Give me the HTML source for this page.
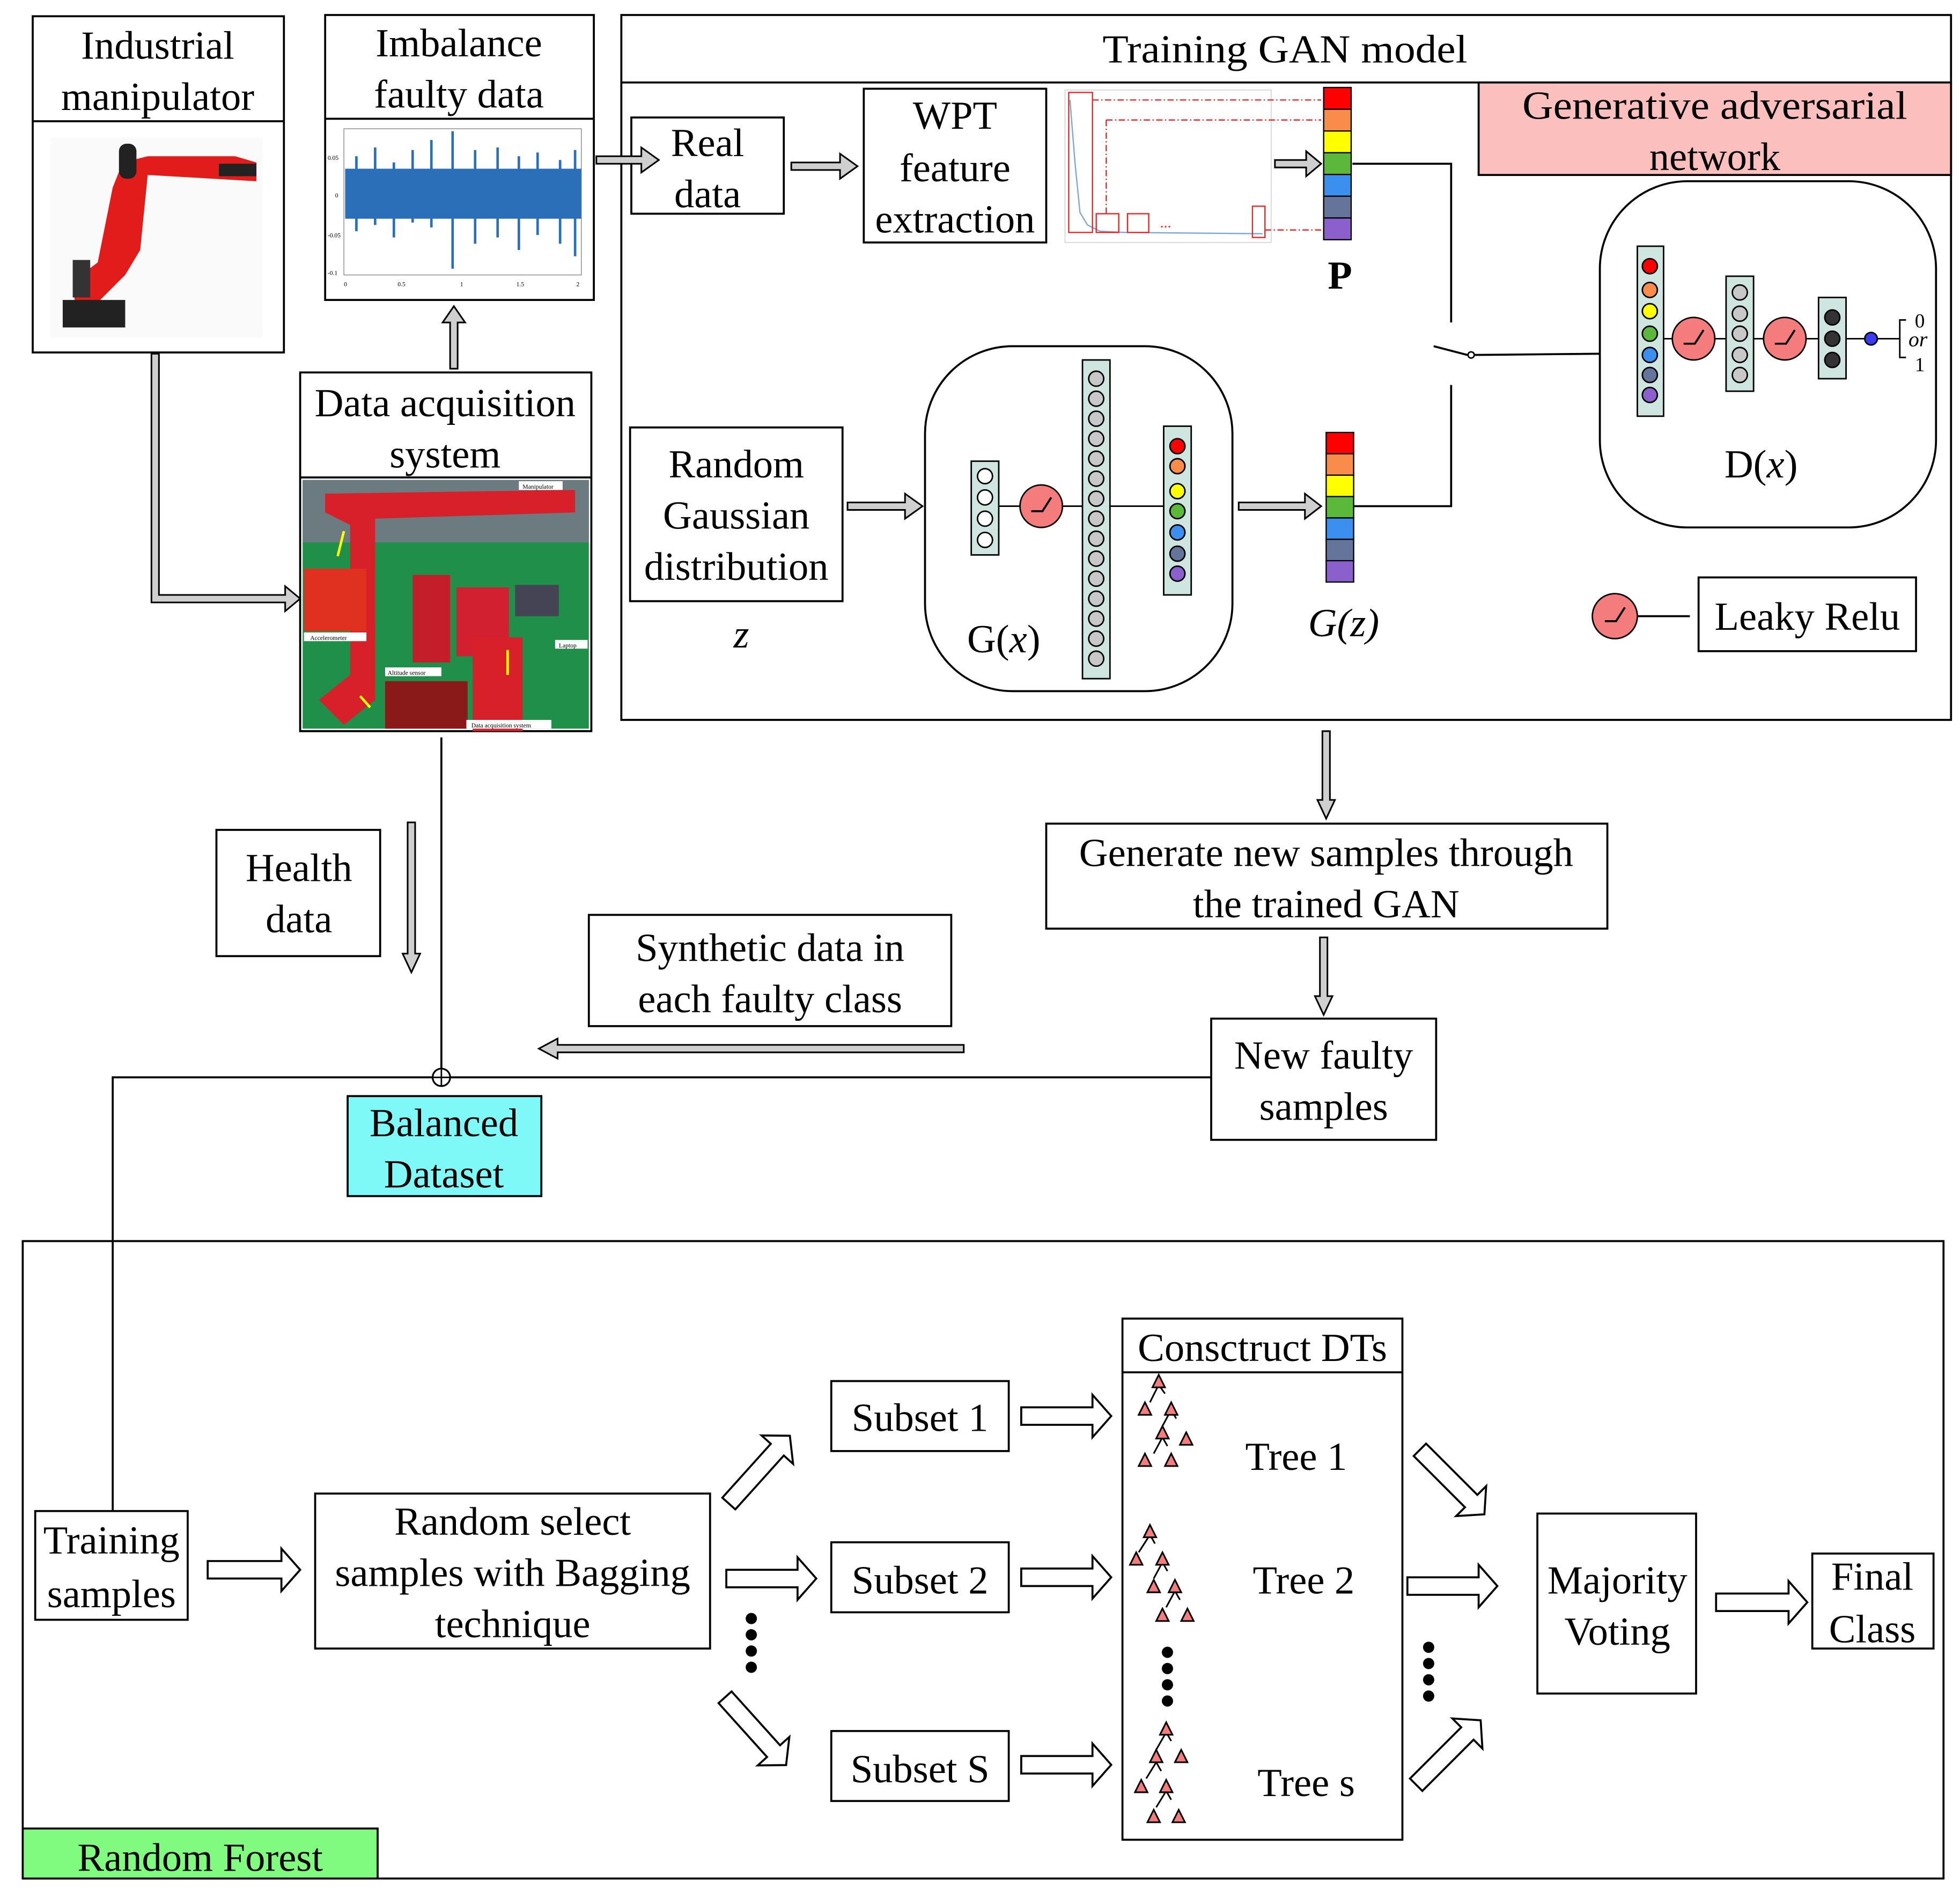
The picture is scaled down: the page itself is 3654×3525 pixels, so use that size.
<!DOCTYPE html>
<html><head><meta charset="utf-8"><style>
html,body{margin:0;padding:0;background:#fff}
svg{display:block}
text{font-family:"Liberation Serif",serif;fill:#000}
</style></head><body>
<svg width="3654" height="3525" viewBox="0 0 1568 1513" xmlns="http://www.w3.org/2000/svg">
<defs>
<path id="ha" d="M0,-7 H-15 V-17 L0,0 L-15,17 V7 Z"/>
</defs>
<rect width="1568" height="1513" fill="#fff"/>
<g fill="none" stroke="#000" stroke-width="1.6">
<!-- Industrial manipulator -->
<rect x="26" y="13" width="201" height="269"/><line x1="26" y1="97" x2="227" y2="97"/>
<!-- Imbalance -->
<rect x="260" y="12" width="215" height="228"/><line x1="260" y1="95" x2="475" y2="95"/>
<!-- Data acquisition -->
<rect x="240" y="298" width="233" height="287"/><line x1="240" y1="382" x2="473" y2="382"/>
<!-- GAN -->
<rect x="497" y="12" width="1064" height="564"/><line x1="497" y1="66" x2="1561" y2="66"/>
<rect x="505" y="94" width="122" height="77"/>
<rect x="691" y="71" width="146" height="123"/>
<rect x="504" y="342" width="170" height="139"/>
<rect x="740" y="277" width="246" height="276" rx="70"/>
<rect x="1280" y="145" width="269" height="277" rx="70"/>
<rect x="1359" y="462" width="174" height="59"/>
<rect x="837" y="659" width="449" height="84"/>
<rect x="969" y="815" width="180" height="97"/>
<rect x="471" y="732" width="290" height="89"/>
<rect x="173" y="664" width="131" height="101"/>
<!-- RF -->
<rect x="18" y="993" width="1537" height="510"/>
<rect x="28" y="1209" width="122" height="87"/>
<rect x="252" y="1195" width="316" height="124"/>
<rect x="665" y="1105" width="142" height="56"/>
<rect x="665" y="1234" width="142" height="56"/>
<rect x="665" y="1385" width="142" height="56"/>
<rect x="898" y="1055" width="224" height="417"/><line x1="898" y1="1098" x2="1122" y2="1098"/>
<rect x="1230" y="1211" width="127" height="144"/>
<rect x="1450" y="1243" width="97" height="76"/>
<!-- connectors -->
<polyline points="1082,131 1161,131 1161,258"/>
<polyline points="1083,405 1161,405 1161,308"/>
<line x1="1147" y1="277" x2="1174" y2="284"/>
<line x1="1180" y1="284" x2="1280" y2="283"/>
<line x1="353" y1="590" x2="353" y2="855"/>
<polyline points="969,862 90,862 90,1209"/>
<line x1="1310" y1="493" x2="1352" y2="493"/>
</g>
<circle cx="1177" cy="284" r="2.5" fill="#fff" stroke="#000" stroke-width="1.2"/>
<circle cx="353" cy="862" r="7" fill="#fff" stroke="#000" stroke-width="1.4"/>
<line x1="346" y1="862" x2="360" y2="862" stroke="#000" stroke-width="1.2"/>
<line x1="353" y1="855" x2="353" y2="869" stroke="#000" stroke-width="1.2"/>

<rect x="1183" y="66" width="378" height="74" fill="#fbbfbe" stroke="#000" stroke-width="1.6"/>
<rect x="278" y="877" width="155" height="80" fill="#7ff8f8" stroke="#000" stroke-width="1.6"/>
<rect x="18" y="1463" width="284" height="40" fill="#80fb80" stroke="#000" stroke-width="1.6"/>

<!-- robot image -->
<g>
<rect x="40" y="110" width="170" height="160" fill="#fafafa"/>
<path d="M98,130 L118,125 L188,125 L205,130 L205,145 L118,140 L112,200 L100,220 L80,240 L60,245 L58,225 L78,210 L90,150 Z" fill="#e21b1b"/>
<rect x="95" y="115" width="14" height="28" rx="6" fill="#222"/>
<rect x="175" y="131" width="30" height="10" fill="#222"/>
<rect x="50" y="240" width="50" height="22" fill="#222"/>
<rect x="58" y="208" width="14" height="30" fill="#333"/>
</g>
<!-- signal plot -->
<g>
<rect x="275" y="103" width="190" height="117" fill="none" stroke="#888" stroke-width="0.6"/>
<rect x="276" y="135" width="189" height="40" fill="#2a6fb8"/>
<path d="M285,125V185M300,118V180M315,130V190M330,120V178M345,112V182M362,105V215M380,120V195M398,118V190M415,125V200M430,122V188M448,128V195M460,120V205" stroke="#2a6fb8" stroke-width="2"/>
<text x="262" y="128" font-size="5">0.05</text><text x="268" y="158" font-size="5">0</text><text x="262" y="190" font-size="5">-0.05</text><text x="262" y="220" font-size="5">-0.1</text>
<text x="275" y="229" font-size="5">0</text><text x="318" y="229" font-size="5">0.5</text><text x="368" y="229" font-size="5">1</text><text x="413" y="229" font-size="5">1.5</text><text x="461" y="229" font-size="5">2</text>
</g>
<!-- data acq photo -->
<g>
<rect x="242" y="384" width="229" height="199" fill="#1f8f4a"/>
<rect x="242" y="384" width="229" height="50" fill="#6b7b80"/>
<path d="M260,395 L460,392 L460,410 L300,415 L300,560 L275,580 L255,560 L280,540 L280,420 L260,410 Z" fill="#d8202a"/>
<rect x="243" y="455" width="50" height="50" fill="#e03020"/>
<rect x="330" y="460" width="30" height="70" fill="#c41e2a"/>
<rect x="365" y="470" width="42" height="55" fill="#d22030"/>
<rect x="378" y="510" width="40" height="75" fill="#d8202a"/>
<rect x="412" y="468" width="35" height="25" fill="#445"/>
<rect x="308" y="545" width="66" height="38" fill="#8a1a1a"/>
<rect x="415" y="385" width="35" height="7" fill="#fff"/><text x="418" y="391" font-size="5">Manipulator</text>
<rect x="243" y="506" width="50" height="7" fill="#fff"/><text x="248" y="512" font-size="5">Accelerometer</text>
<rect x="308" y="534" width="45" height="7" fill="#fff"/><text x="310" y="540" font-size="5">Altitude sensor</text>
<rect x="444" y="512" width="26" height="7" fill="#fff"/><text x="447" y="518" font-size="5">Laptop</text>
<rect x="373" y="576" width="68" height="7" fill="#fff"/><text x="377" y="582" font-size="5">Data acquisition system</text>
<path d="M270,445 L275,425M296,566 L288,557M406,540 L406,520" stroke="#ff0" stroke-width="2"/>
</g>
<!-- spectrum -->
<g>
<rect x="852" y="72" width="165" height="122" fill="#fff" stroke="#ccc" stroke-width="0.6"/>
<path d="M856,80 L860,130 L864,170 L870,180 L880,185 L900,186 L1010,187" fill="none" stroke="#7aa7d8" stroke-width="1"/>
<g fill="none" stroke="#e22" stroke-width="1"><rect x="855" y="74" width="19" height="112"/><rect x="877" y="171" width="18" height="15"/><rect x="902" y="171" width="17" height="15"/><rect x="1002" y="165" width="10" height="25"/>
<path d="M874,80 H1057 M885,96 V171 M885,96 H1057 M1012,184 H1057" stroke-dasharray="5,2,1,2"/></g>
<text x="928" y="182" font-size="12" fill="#e22" style="fill:#e22">...</text>
</g>
<!-- color bars -->
<g stroke="#000" stroke-width="1">
<rect x="1059" y="70" width="22" height="17.4" fill="#f00"/><rect x="1059" y="87.4" width="22" height="17.4" fill="#fa8c4b"/><rect x="1059" y="104.8" width="22" height="17.4" fill="#ff0"/><rect x="1059" y="122.2" width="22" height="17.4" fill="#5cb83a"/><rect x="1059" y="139.6" width="22" height="17.4" fill="#3b8fef"/><rect x="1059" y="157" width="22" height="17.4" fill="#64749a"/><rect x="1059" y="174.4" width="22" height="17.4" fill="#8c60cc"/>
<rect x="1061" y="346" width="22" height="17.1" fill="#f00"/><rect x="1061" y="363.1" width="22" height="17.1" fill="#fa8c4b"/><rect x="1061" y="380.2" width="22" height="17.1" fill="#ff0"/><rect x="1061" y="397.3" width="22" height="17.1" fill="#5cb83a"/><rect x="1061" y="414.4" width="22" height="17.1" fill="#3b8fef"/><rect x="1061" y="431.5" width="22" height="17.1" fill="#64749a"/><rect x="1061" y="448.6" width="22" height="17.1" fill="#8c60cc"/>
</g>
<!-- G network -->
<g stroke="#000" stroke-width="1.2">
<line x1="799" y1="405" x2="866" y2="405"/><line x1="888" y1="405" x2="931" y2="405"/>
<rect x="777" y="369" width="22" height="75" fill="#cfe6e0"/>
<circle cx="788" cy="381" r="6" fill="#fff"/><circle cx="788" cy="398" r="6" fill="#fff"/><circle cx="788" cy="415" r="6" fill="#fff"/><circle cx="788" cy="432" r="6" fill="#fff"/>
<circle cx="833" cy="405" r="17" fill="#f47c7c"/>
<rect x="866" y="288" width="22" height="255" fill="#cfe6e0"/>
<g fill="#c8c8c8"><circle cx="877" cy="303" r="6"/><circle cx="877" cy="319" r="6"/><circle cx="877" cy="335" r="6"/><circle cx="877" cy="351" r="6"/><circle cx="877" cy="367" r="6"/><circle cx="877" cy="383" r="6"/><circle cx="877" cy="399" r="6"/><circle cx="877" cy="415" r="6"/><circle cx="877" cy="431" r="6"/><circle cx="877" cy="447" r="6"/><circle cx="877" cy="463" r="6"/><circle cx="877" cy="479" r="6"/><circle cx="877" cy="495" r="6"/><circle cx="877" cy="511" r="6"/><circle cx="877" cy="527" r="6"/></g>
<rect x="931" y="341" width="22" height="135" fill="#cfe6e0"/>
<circle cx="942" cy="357" r="6" fill="#f00"/><circle cx="942" cy="373" r="6" fill="#fa8c4b"/><circle cx="942" cy="393" r="6" fill="#ff0"/><circle cx="942" cy="409" r="6" fill="#5cb83a"/><circle cx="942" cy="426" r="6" fill="#3b8fef"/><circle cx="942" cy="443" r="6" fill="#64749a"/><circle cx="942" cy="459" r="6" fill="#8c60cc"/>
</g>
<path d="M825,409 H834 L841,398" fill="none" stroke="#000" stroke-width="1.6"/>
<!-- D network -->
<g stroke="#000" stroke-width="1.2">
<line x1="1331" y1="271" x2="1381" y2="271"/><line x1="1403" y1="271" x2="1455" y2="271"/><line x1="1477" y1="271" x2="1520" y2="271"/>
<rect x="1310" y="197" width="21" height="136" fill="#cfe6e0"/>
<circle cx="1320" cy="213" r="6" fill="#f00"/><circle cx="1320" cy="232" r="6" fill="#fa8c4b"/><circle cx="1320" cy="249" r="6" fill="#ff0"/><circle cx="1320" cy="267" r="6" fill="#5cb83a"/><circle cx="1320" cy="284" r="6" fill="#3b8fef"/><circle cx="1320" cy="300" r="6" fill="#64749a"/><circle cx="1320" cy="316" r="6" fill="#8c60cc"/>
<circle cx="1355" cy="271" r="17" fill="#f47c7c"/>
<rect x="1381" y="221" width="22" height="92" fill="#cfe6e0"/>
<g fill="#c8c8c8"><circle cx="1392" cy="234" r="6"/><circle cx="1392" cy="251" r="6"/><circle cx="1392" cy="267" r="6"/><circle cx="1392" cy="284" r="6"/><circle cx="1392" cy="300" r="6"/></g>
<circle cx="1428" cy="271" r="17" fill="#f47c7c"/>
<rect x="1455" y="238" width="22" height="65" fill="#cfe6e0"/>
<g fill="#333"><circle cx="1466" cy="254" r="6"/><circle cx="1466" cy="271" r="6"/><circle cx="1466" cy="288" r="6"/></g>
<circle cx="1497" cy="271" r="5" fill="#3b3bef"/>
<circle cx="1292" cy="493" r="18" fill="#f47c7c"/>
</g>
<path d="M1347,275 H1356 L1363,264 M1420,275 H1429 L1436,264 M1284,497 H1293 L1300,486" fill="none" stroke="#000" stroke-width="1.6"/>
<path d="M1525,256 H1520 V286 H1525" fill="none" stroke="#000" stroke-width="1.2"/>
<text x="1532" y="262" font-size="16">0</text><text x="1527" y="277" font-size="17" font-style="italic">or</text><text x="1532" y="297" font-size="16">1</text>

<!-- gray arrows -->
<g fill="#cfcfcf" stroke="#000" stroke-width="1.3">
<path d="M121,283 H127 V476 H228 V469 L240,479 L228,489 V482 H121 Z"/>
<path d="M360,295 V258 H354 L363,245 L372,258 H366 V295 Z"/>
<path d="M477,125 H513 V118 L527,128 L513,138 V131 H477 Z"/>
<path d="M633,130 H672 V123 L686,133 L672,143 V136 H633 Z"/>
<path d="M1020,128 H1045 V121 L1057,131 L1045,141 V134 H1020 Z"/>
<path d="M678,402 H724 V395 L738,405 L724,415 V408 H678 Z"/>
<path d="M991,402 H1044 V395 L1057,405 L1044,415 V408 H991 Z"/>
<path d="M1058,585 V640 H1054 L1061,655 L1068,640 H1064 V585 Z"/>
<path d="M1056,750 V797 H1052 L1059,812 L1066,797 H1062 V750 Z"/>
<path d="M326,658 V763 H322 L329,778 L336,763 H332 V658 Z"/>
<path d="M771,836 H446 V831 L431,839 L446,847 V842 H771 Z"/>
</g>

<!-- hollow arrows -->
<g fill="#fff" stroke="#000" stroke-width="1.6">
<path d="M166,1249 H225 V1239 L240,1256 L225,1273 V1263 H166 Z"/>
<path d="M581,1256 H638 V1246 L653,1263 L638,1280 V1270 H581 Z"/>
<path d="M817,1126 H874 V1116 L889,1133 L874,1150 V1140 H817 Z"/>
<path d="M817,1255 H874 V1245 L889,1262 L874,1279 V1269 H817 Z"/>
<path d="M817,1405 H874 V1395 L889,1412 L874,1429 V1419 H817 Z"/>
<path d="M1126,1262 H1183 V1252 L1198,1269 L1183,1286 V1276 H1126 Z"/>
<path d="M1373,1275 H1431 V1265 L1446,1282 L1431,1299 V1289 H1373 Z"/>
<g transform="translate(583,1203) rotate(-48)"><path d="M0,-7 H58 V-17 L73,0 L58,17 V7 H0 Z"/></g>
<g transform="translate(580,1358) rotate(48)"><path d="M0,-7 H58 V-17 L73,0 L58,17 V7 H0 Z"/></g>
<g transform="translate(1136,1160) rotate(45)"><path d="M0,-7 H58 V-17 L73,0 L58,17 V7 H0 Z"/></g>
<g transform="translate(1133,1428) rotate(-45)"><path d="M0,-7 H58 V-17 L73,0 L58,17 V7 H0 Z"/></g>
</g>
<!-- dots -->
<g fill="#000">
<circle cx="601" cy="1295" r="4.5"/><circle cx="601" cy="1308" r="4.5"/><circle cx="601" cy="1321" r="4.5"/><circle cx="601" cy="1334" r="4.5"/>
<circle cx="934" cy="1322" r="4.5"/><circle cx="934" cy="1335" r="4.5"/><circle cx="934" cy="1348" r="4.5"/><circle cx="934" cy="1361" r="4.5"/>
<circle cx="1143" cy="1318" r="4.5"/><circle cx="1143" cy="1331" r="4.5"/><circle cx="1143" cy="1344" r="4.5"/><circle cx="1143" cy="1357" r="4.5"/>
</g>
<!-- trees -->
<g stroke="#000" stroke-width="1.3" fill="#f47c7c">
<g transform="translate(910,1100)">
<path d="M17,8 L10,22 M17,8 L22,15 M27,28 L20,41 M27,28 L31,35 M20,50 L13,63 M20,50 L24,57" fill="none"/>
<path d="M17,0 L12,10 L22,10 Z"/><path d="M6,22 L1,32 L11,32 Z"/><path d="M27,22 L22,32 L32,32 Z"/><path d="M20,41 L15,51 L25,51 Z"/><path d="M39,46 L34,56 L44,56 Z"/><path d="M6,63 L1,73 L11,73 Z"/><path d="M27,63 L22,73 L32,73 Z"/>
</g>
<g transform="translate(903,1220)">
<path d="M17,8 L8,22 M17,8 L21,15 M27,30 L20,43 M27,30 L31,37 M37,53 L30,66 M37,53 L41,60" fill="none"/>
<path d="M17,0 L12,10 L22,10 Z"/><path d="M6,22 L1,32 L11,32 Z"/><path d="M27,22 L22,32 L32,32 Z"/><path d="M20,44 L15,54 L25,54 Z"/><path d="M37,44 L32,54 L42,54 Z"/><path d="M27,67 L22,77 L32,77 Z"/><path d="M47,67 L42,77 L52,77 Z"/>
</g>
<g transform="translate(903,1378)">
<path d="M30,8 L22,22 M30,8 L34,15 M22,32 L14,45 M22,32 L26,39 M30,55 L22,68 M30,55 L34,62" fill="none"/>
<path d="M30,0 L25,10 L35,10 Z"/><path d="M22,22 L17,32 L27,32 Z"/><path d="M42,22 L37,32 L47,32 Z"/><path d="M10,46 L5,56 L15,56 Z"/><path d="M30,46 L25,56 L35,56 Z"/><path d="M20,70 L15,80 L25,80 Z"/><path d="M40,70 L35,80 L45,80 Z"/>
</g>
</g>

<!-- text -->
<g font-size="32" text-anchor="middle">
<text x="126" y="47">Industrial</text><text x="126" y="88">manipulator</text>
<text x="367" y="45">Imbalance</text><text x="367" y="86">faulty data</text>
<text x="356" y="333">Data acquisition</text><text x="356" y="374">system</text>
<text x="1028" y="50" textLength="292" lengthAdjust="spacingAndGlyphs">Training GAN model</text>
<text x="566" y="125">Real</text><text x="566" y="166">data</text>
<text x="764" y="103">WPT</text><text x="764" y="145">feature</text><text x="764" y="186">extraction</text>
<text x="1372" y="95" textLength="308" lengthAdjust="spacingAndGlyphs">Generative adversarial</text><text x="1372" y="136">network</text>
<text x="1072" y="231" font-weight="bold">P</text>
<text x="589" y="382">Random</text><text x="589" y="423">Gaussian</text><text x="589" y="464">distribution</text>
<text x="593" y="518" font-style="italic">z</text>
<text x="803" y="522">G(<tspan font-style="italic">x</tspan>)</text>
<text x="1075" y="509" font-style="italic">G(z)</text>
<text x="1409" y="382">D(<tspan font-style="italic">x</tspan>)</text>
<text x="1446" y="504">Leaky Relu</text>
<text x="1061" y="693">Generate new samples through</text><text x="1061" y="734">the trained GAN</text>
<text x="1059" y="855">New faulty</text><text x="1059" y="896">samples</text>
<text x="616" y="769">Synthetic data in</text><text x="616" y="810">each faulty class</text>
<text x="239" y="705">Health</text><text x="239" y="746">data</text>
<text x="355" y="909">Balanced</text><text x="355" y="950">Dataset</text>
<text x="89" y="1243">Training</text><text x="89" y="1286">samples</text>
<text x="410" y="1228">Random select</text><text x="410" y="1269">samples with Bagging</text><text x="410" y="1310">technique</text>
<text x="736" y="1145">Subset 1</text><text x="736" y="1275">Subset 2</text><text x="736" y="1426">Subset S</text>
<text x="1010" y="1089">Consctruct DTs</text>
<text x="1037" y="1176">Tree 1</text><text x="1043" y="1275">Tree 2</text><text x="1045" y="1437">Tree s</text>
<text x="1294" y="1275">Majority</text><text x="1294" y="1316">Voting</text>
<text x="1498" y="1272">Final</text><text x="1498" y="1314">Class</text>
<text x="160" y="1497">Random Forest</text>
</g>
</svg>
</body></html>
